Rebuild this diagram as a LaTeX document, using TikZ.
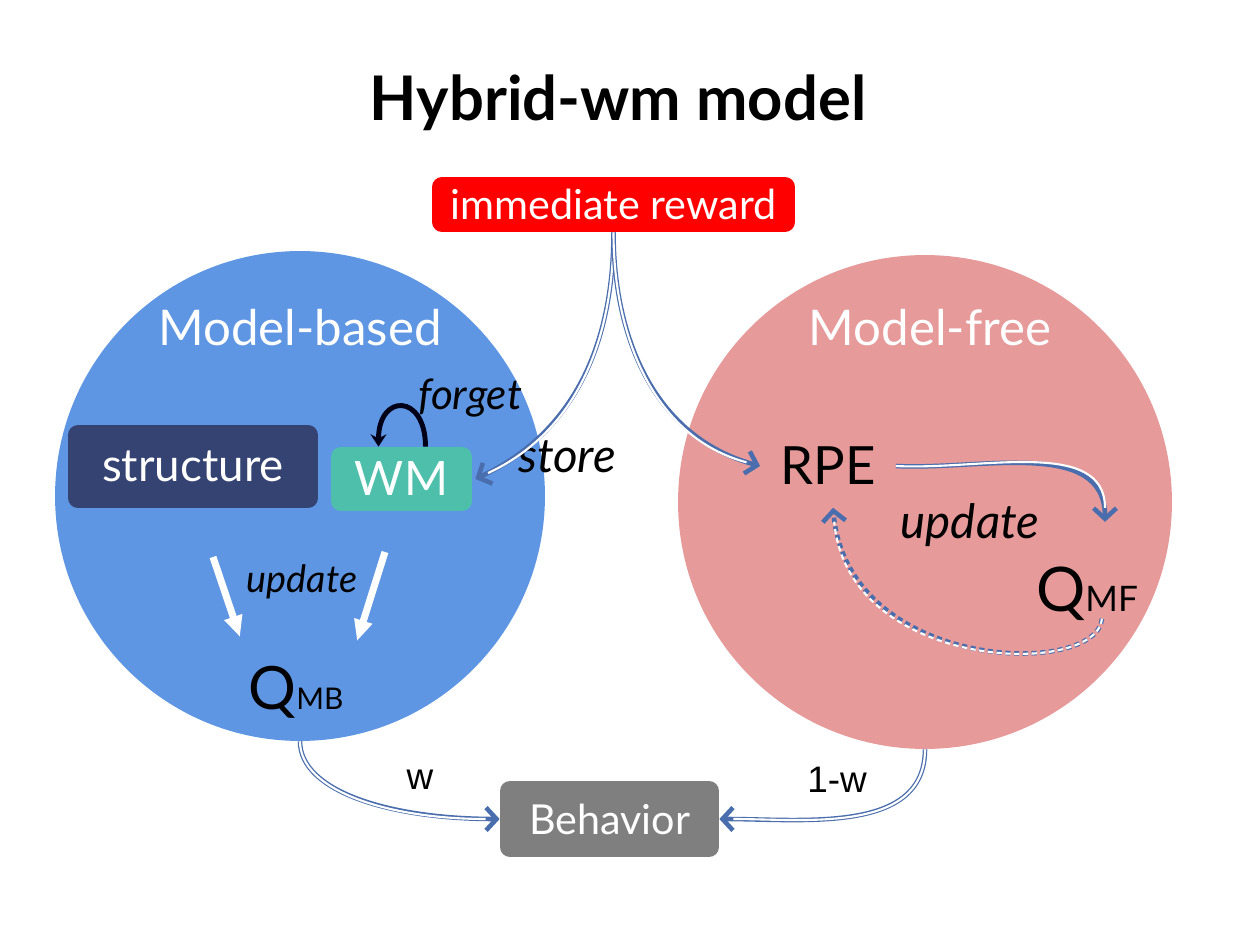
\documentclass[tikz,border=0pt]{standalone}
\usepackage{fontspec}
\setmainfont{Lato}
\newfontfamily\arialfont{Liberation Sans}
\usetikzlibrary{arrows.meta, positioning}

\definecolor{mbblue}{HTML}{5F96E3}
\definecolor{mfpink}{HTML}{E69A9A}
\definecolor{structnavy}{HTML}{344372}
\definecolor{wmteal}{HTML}{4DBFAB}
\definecolor{lineblue}{HTML}{4A6EAD}
\definecolor{behavgray}{HTML}{7F7F7F}
\newcommand{\fsz}[1]{\fontsize{#1pt}{#1pt}\selectfont}

\begin{document}
\begin{tikzpicture}[x=0.02cm, y=0.02cm, inner sep=0pt,
  box/.style={rounded corners=0.2cm, text=white},
  dbl/.style={preaction={draw=lineblue, line width=2.6pt, shorten >=0pt, #1, -{Straight Barb[length=6pt, width=13pt, line width=2.6pt]}}, draw=white, line width=1.2pt, shorten >=8pt, #1},
  dbl/.default={},
  white arrow/.style={draw=white, line width=4pt, -{Triangle[length=12pt, width=10pt]}}]
\useasboundingbox (0,0) rectangle (1245,-932);
% the two circles
\node[circle, fill=mbblue, minimum size=9.8cm] (mb) at (300,-496) {};
\node[circle, fill=mfpink, minimum size=9.88cm] (mf) at (925,-502) {};
\node[font=\fsz{35}\bfseries] (title) at (618,-103) {Hybrid-wm model};
\node[box, fill=red, minimum width=7.26cm, minimum height=1.1cm, font=\fsz{23.5}] (reward) at (613.5,-204.5) {immediate reward};
\node[text=white, font=\fsz{28}] (mblabel) at (300,-328) {Model-based};
\node[text=white, font=\fsz{28}] (mflabel) at (930,-328) {Model-free};
% model-based side
\node[box, fill=structnavy, minimum width=5cm, minimum height=1.66cm, font=\fsz{26}] (structure) at (193,-466.5) {structure};
\node[box, fill=wmteal, minimum width=2.82cm, minimum height=1.28cm, font=\fsz{27}] (wm) at (401.5,-479) {WM};
\node[font=\fsz{24}\itshape] (forget) at (470,-398) {forget};
\node[font=\fsz{27}\itshape] (store) at (567,-457) {store};
\node[font=\fsz{21.5}\itshape] (mbupdate) at (302,-582) {update};
\node[font=\fsz{34}] (qmb) at (296,-692) {Q{\fsz{17}MB}};
\coordinate (ua) at (213,-557);
\coordinate (ub) at (240,-637);
\coordinate (uc) at (385,-552);
\coordinate (ud) at (357,-641);
% model-free side
\node[font=\fsz{30}] (rpe) at (828,-466) {RPE};
\node[font=\fsz{27}\itshape] (mfupdate) at (970,-525) {update};
\node[font=\fsz{35}] (qmf) at (1087,-594) {Q{\fsz{20}MF}};
% output
\node[box, fill=behavgray, minimum width=4.38cm, minimum height=1.52cm, font=\fsz{23.5}] (behavior) at (609.5,-819) {Behavior};
\node[font=\arialfont\fsz{21}] (wlabel) at (420,-780) {w};
\node[font=\arialfont\fsz{21}] (owlabel) at (837,-780) {1-w};
% connectors
\draw[black!90!blue, line width=2.8pt, -{Stealth[length=7pt, width=9pt]}] ([xshift=0.48cm]wm.north) to[out=90, in=90, distance=1.07cm] ([xshift=-0.46cm]wm.north);
\draw[white arrow] (ua) -- (ub);
\draw[white arrow] (uc) -- (ud);
\draw[dbl] (reward.south) to[out=-90, in=25] ([xshift=0.06cm]wm.east);
\draw[dbl] (reward.south) to[out=-90, in=165] ([xshift=-0.4cm]rpe.west);
\draw[dbl] ([xshift=0.4cm]rpe.east) to[out=-3, in=90] ([xshift=0.36cm, yshift=0.9cm]qmf.north);
\draw[dbl={dash pattern=on 3pt off 2pt}] ([xshift=0.3cm, yshift=0.05cm]qmf.south) to[out=-95, in=-85, out distance=1.2cm, in distance=3.3cm] ([xshift=0.1cm, yshift=-0.45cm]rpe.south);
\draw[dbl] (mb.south) to[out=-90, in=180, out distance=1cm, in distance=2.2cm] (behavior.west);
\draw[dbl] (mf.south) to[out=-90, in=0] (behavior.east);
\end{tikzpicture}
\end{document}
